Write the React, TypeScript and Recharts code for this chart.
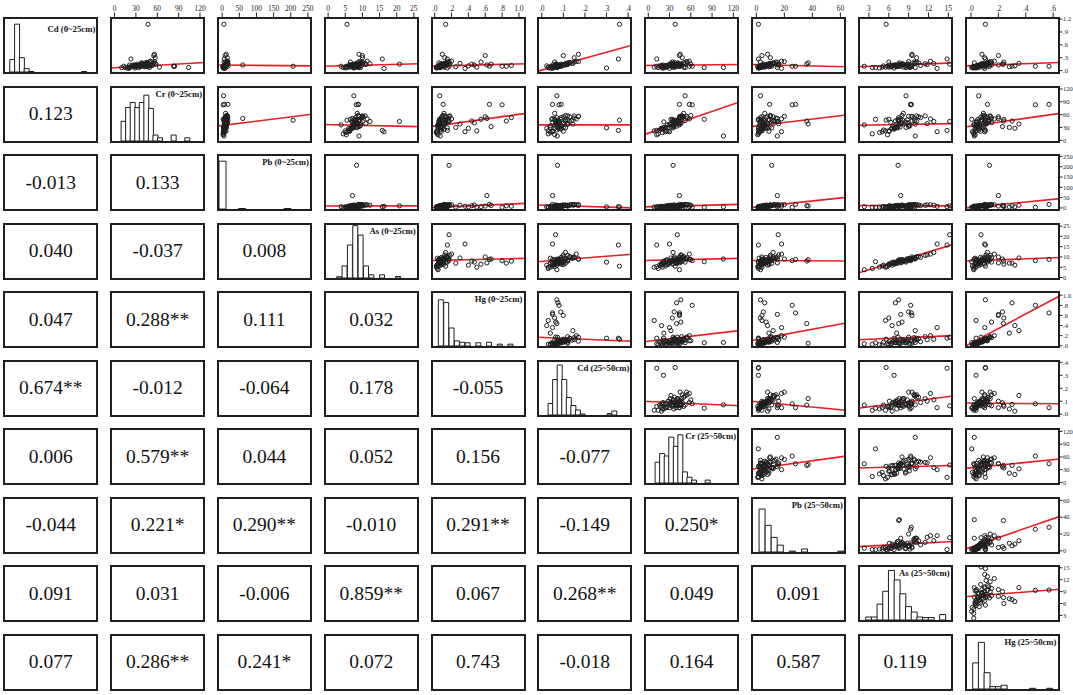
import { ScatterChart, Scatter, XAxis, YAxis, ReferenceLine, BarChart, Bar } from 'recharts';

const SERIF = '"Liberation Serif", "Times New Roman", serif';

// one value per soil sample, same order in every array
const cd0 = [
  0.12, 0.08, 0.15, 0.1, 0.18, 0.06, 0.13, 0.11, 0.2, 0.09, 0.14, 0.07, 0.16, 0.12, 0.1, 0.22, 0.13, 0.09, 0.11, 0.17,
  0.14, 0.1, 0.12, 0.08, 0.19, 0.11, 0.15, 0.13, 0.07, 0.16, 0.1, 0.14, 0.09, 0.12, 0.21, 0.11, 0.13, 0.1, 0.16, 0.12,
  0.38, 0.3, 0.08,
  1.08, 0.27, 0.06, 0.1, 0.13, 0.15, 0.05, 0.07, 0.1, 0.07, 0.07, 0.18,
  0.12, 0.1, 0.1, 0.15, 0.1, 0.35, 0.2, 0.08, 0.13, 0.15, 0.11, 0.17, 0.09,
];
const cr0 = [
  35, 22, 48, 41, 55, 18, 30, 45, 52, 27, 38, 15, 57, 33, 43, 50, 29, 36, 24, 46,
  40, 31, 53, 20, 44, 37, 58, 26, 34, 47, 13, 39, 42, 30, 56, 49, 21, 36, 44, 27,
  56, 57, 63,
  47, 23, 29, 47, 51, 44, 20, 104, 84, 10, 49, 38,
  53, 45, 83, 32, 84, 55, 49, 22, 41, 45, 28, 38, 30,
];
const pb0 = [
  9, 6, 12, 8, 14, 4, 11, 7, 16, 5, 10, 3, 13, 9, 6, 15, 12, 8, 7, 17,
  10, 5, 11, 4, 14, 9, 13, 6, 8, 12, 3, 15, 7, 10, 16, 9, 11, 6, 13, 8,
  12, 15, 10,
  5, 6, 5, 207, 60, 10, 8, 4, 7, 5, 3, 9,
  8, 10, 3, 12, 17, 9, 6, 4, 14, 11, 5, 13, 4,
];
const as0 = [
  7.8, 6.2, 9.1, 8.4, 10.2, 5.1, 7.1, 8.9, 9.6, 6.7, 8.1, 4.4, 10.8, 7.4, 7.9, 11.4, 6.9, 8.6, 6.0, 9.3,
  7.6, 8.2, 9.8, 5.6, 10.0, 7.3, 8.8, 6.5, 9.4, 8.0, 5.3, 11.0, 7.0, 8.5, 9.0, 7.7, 6.3, 3.8, 12.2, 6.8,
  9.0, 10.0, 8.5,
  5.5, 15.8, 7.5, 8.3, 7.1, 20.8, 16.3, 7.5, 8.8, 9.0, 7.7, 8.7,
  8.0, 7.0, 8.2, 9.0, 8.8, 10.0, 6.5, 5.0, 7.5, 8.0, 6.0, 9.5, 7.0,
];
const hg0 = [
  0.06, 0.03, 0.09, 0.12, 0.14, 0.02, 0.07, 0.05, 0.16, 0.04, 0.1, 0.03, 0.18, 0.08, 0.06, 0.2, 0.09, 0.05, 0.07, 0.11,
  0.13, 0.04, 0.08, 0.02, 0.15, 0.06, 0.1, 0.11, 0.03, 0.07, 0.04, 0.12, 0.05, 0.09, 0.17, 0.06, 0.08, 0.04, 0.13, 0.07,
  0.09, 0.12, 0.11,
  0.13, 0.15, 0.15, 0.17, 0.62, 0.17, 0.36, 0.06, 0.1, 0.066, 0.06, 0.05,
  0.91, 0.85, 0.8, 0.67, 0.65, 0.6, 0.55, 0.5, 0.47, 0.44, 0.4, 0.3, 0.25,
];
const cd25 = [
  0.09, 0.05, 0.11, 0.07, 0.13, 0.04, 0.1, 0.08, 0.15, 0.06, 0.12, 0.03, 0.12, 0.09, 0.08, 0.16, 0.11, 0.06, 0.07, 0.14,
  0.1, 0.07, 0.09, 0.05, 0.13, 0.08, 0.11, 0.09, 0.04, 0.12, 0.06, 0.1, 0.05, 0.08, 0.17, 0.09, 0.1, 0.07, 0.11, 0.08,
  0.17, 0.15, 0.06,
  0.36, 0.355, 0.3, 0.073, 0.05, 0.064, 0.05, 0.07, 0.09, 0.072, 0.046, 0.12,
  0.07, 0.075, 0.08, 0.088, 0.05, 0.1, 0.06, 0.03, 0.065, 0.07, 0.023, 0.144, 0.04,
];
const cr25 = [
  34, 26, 42, 38, 50, 20, 29, 45, 55, 18, 31, 14, 47, 40, 22, 58, 35, 27, 16, 52,
  43, 33, 48, 24, 37, 30, 60, 21, 36, 41, 12, 46, 39, 25, 54, 32, 28, 44, 35, 19,
  45, 48, 50,
  38, 12, 21.5, 35, 44, 41, 30, 52, 58, 106, 79, 42,
  46, 40, 62, 36.5, 44, 44, 34, 8.4, 46, 40, 18.7, 32, 22,
];
const pb25 = [
  6, 3, 9, 5, 12, 2, 7, 4, 14, 3, 8, 1.5, 10, 6, 2.5, 18, 11, 5, 4, 13,
  8, 3.5, 7, 2, 15, 6, 10, 4.5, 2, 9, 1, 16, 3, 7, 20, 5, 9, 3, 12, 5.5,
  8, 10, 6,
  1.5, 1.5, 1.5, 11, 15, 15.6, 18, 3, 9.5, 15, 1.4, 37,
  3, 6, 25.6, 5, 28, 4, 2.8, 4, 7, 36, 8, 12, 9,
];
const as25 = [
  7.5, 6.0, 8.8, 8.9, 10.5, 4.6, 7.0, 9.5, 9.8, 6.4, 8.3, 3.5, 11.5, 6.6, 8.5, 12.3, 7.3, 9.1, 5.2, 9.9,
  7.8, 7.7, 10.8, 5.0, 10.2, 7.1, 8.0, 6.8, 9.2, 8.1, 5.8, 11.8, 6.3, 8.6, 9.0, 7.4, 6.1, 2.3, 12.8, 6.9,
  9.5, 10.2, 8.2,
  5.6, 14.8, 6.8, 7.4, 7.8, 15.2, 13.3, 8.6, 9.3, 10.0, 4.0, 7.6,
  7.5, 7.0, 9.3, 9.0, 9.4, 9.5, 6.0, 5.5, 8.0, 7.5, 6.5, 10.0, 7.2,
];
const hg25 = [
  0.05, 0.03, 0.08, 0.1, 0.12, 0.02, 0.06, 0.04, 0.15, 0.03, 0.11, 0.02, 0.14, 0.07, 0.05, 0.17, 0.09, 0.04, 0.06, 0.1,
  0.12, 0.05, 0.07, 0.01, 0.13, 0.06, 0.09, 0.1, 0.03, 0.08, 0.03, 0.11, 0.04, 0.08, 0.14, 0.05, 0.07, 0.02, 0.12, 0.06,
  0.08, 0.1, 0.09,
  0.105, 0.105, 0.037, 0.135, 0.2, 0.073, 0.1, 0.056, 0.12, 0.024, 0.005, 0.024,
  0.105, 0.3, 0.47, 0.23, 0.57, 0.2, 0.24, 0.037, 0.15, 0.237, 0.32, 0.35, 0.28,
];

// histogram counts (relative, tallest bin = 100), one entry per bin
const cd0Hist = [0, 26, 100, 30, 7, 1, 0, 0, 0, 0, 0, 0, 0, 0, 0, 0, 1, 0, 0];
const cr0Hist = [0, 0, 43, 73, 84, 73, 84, 100, 71, 13, 7, 0, 0, 13, 0, 0, 7, 0, 0, 0];
const pb0Hist = [100, 0, 0, 1, 0, 0, 0, 0, 0, 0, 1, 0, 0, 0];
const as0Hist = [0, 0, 2.5, 23, 63, 100, 82, 23, 6, 0, 6, 0, 0, 3, 0, 0, 0];
const hg0Hist = [0, 100, 94, 39, 11, 8, 7, 0, 7, 0, 8, 0, 4, 0, 4, 0, 0];
const cd25Hist = [0, 0, 23, 71, 100, 71, 35, 19, 10, 2, 0, 0, 0, 0, 0, 3, 8, 0, 0, 0];
const cr25Hist = [0, 0, 43, 61, 56, 95, 76, 100, 23, 12, 6, 0, 0, 6, 0, 0, 0, 0, 0, 0];
const pb25Hist = [0, 100, 62, 34, 16, 0, 2, 0, 7, 0, 0, 0, 0, 0, 2];
const as25Hist = [0, 6, 6, 32, 58, 100, 81, 53, 27, 16, 6, 5, 5, 0, 11, 0];
const hg25Hist = [0, 56, 100, 35, 5, 5, 8, 0, 0, 0, 0, 1.5, 0, 0, 1.5, 0];

const cd0Ticks = [0, 0.3, 0.6, 0.9, 1.2];
const cr0Ticks = [0, 30, 60, 90, 120];
const pb0Ticks = [0, 50, 100, 150, 200, 250];
const as0Ticks = [0, 5, 10, 15, 20, 25];
const hg0Ticks = [0, 0.2, 0.4, 0.6, 0.8, 1.0];
const cd25Ticks = [0, 0.1, 0.2, 0.3, 0.4];
const cr25Ticks = [0, 30, 60, 90, 120];
const pb25Ticks = [0, 20, 40, 60];
const as25Ticks = [3, 6, 9, 12, 15];
const hg25Ticks = [0, 0.2, 0.4, 0.6];

// Pearson r, lower triangle, row by row
const corrRows = [
  ['0.123'],
  ['-0.013', '0.133'],
  ['0.040', '-0.037', '0.008'],
  ['0.047', '0.288**', '0.111', '0.032'],
  ['0.674**', '-0.012', '-0.064', '0.178', '-0.055'],
  ['0.006', '0.579**', '0.044', '0.052', '0.156', '-0.077'],
  ['-0.044', '0.221*', '0.290**', '-0.010', '0.291**', '-0.149', '0.250*'],
  ['0.091', '0.031', '-0.006', '0.859**', '0.067', '0.268**', '0.049', '0.091'],
  ['0.077', '0.286**', '0.241*', '0.072', '0.743', '-0.018', '0.164', '0.587', '0.119'],
];

// fitted line: [row, col, y at left edge, y at right edge]
const fitLines = [
  [0, 1, 0.06, 0.19], [0, 2, 0.13, 0.11], [0, 3, 0.1, 0.16], [0, 4, 0.1, 0.16], [0, 5, -0.02, 0.59],
  [0, 6, 0.12, 0.14], [0, 7, 0.14, 0.09], [0, 8, 0.09, 0.18], [0, 9, 0.11, 0.19],
  [1, 2, 33, 61], [1, 3, 37, 32], [1, 4, 32, 63], [1, 5, 36, 36], [1, 6, 13, 89], [1, 7, 32, 59], [1, 8, 35, 39], [1, 9, 31, 63],
  [2, 3, 9, 10], [2, 4, 2, 22], [2, 5, 14, 0], [2, 6, 5, 17], [2, 7, 2, 51], [2, 8, 12, 10], [2, 9, 0, 45],
  [3, 4, 8.3, 9.3], [3, 5, 7.7, 11.3], [3, 6, 8.3, 9.3], [3, 7, 8.3, 8], [3, 8, 2.2, 16], [3, 9, 8, 9.7],
  [4, 5, 0.17, 0.09], [4, 6, 0.08, 0.3], [4, 7, 0.1, 0.45], [4, 8, 0.12, 0.2], [4, 9, -0.01, 0.99],
  [5, 6, 0.1, 0.065], [5, 7, 0.1, 0.03], [5, 8, 0.045, 0.14], [5, 9, 0.086, 0.08],
  [6, 7, 31, 62], [6, 8, 34, 40], [6, 9, 33, 55],
  [7, 8, 5, 11], [7, 9, 2, 41],
  [8, 9, 7.7, 9.6],
];

const vars = [
  { name: 'Cd (0~25cm)', values: cd0, domain: [-0.08, 1.25], ticks: cd0Ticks, dec: true, hist: cd0Hist, histTop: 115 },
  { name: 'Cr (0~25cm)', values: cr0, domain: [-6.4, 127], ticks: cr0Ticks, dec: false, hist: cr0Hist, histTop: 120 },
  { name: 'Pb (0~25cm)', values: pb0, domain: [-15, 262], ticks: pb0Ticks, dec: false, hist: pb0Hist, histTop: 115 },
  { name: 'As (0~25cm)', values: as0, domain: [-1.2, 26.5], ticks: as0Ticks, dec: false, hist: as0Hist, histTop: 105 },
  { name: 'Hg (0~25cm)', values: hg0, domain: [-0.044, 1.084], ticks: hg0Ticks, dec: true, hist: hg0Hist, histTop: 119 },
  { name: 'Cd (25~50cm)', values: cd25, domain: [-0.022, 0.418], ticks: cd25Ticks, dec: true, hist: cd25Hist, histTop: 110 },
  { name: 'Cr (25~50cm)', values: cr25, domain: [-6, 128], ticks: cr25Ticks, dec: false, hist: cr25Hist, histTop: 114 },
  { name: 'Pb (25~50cm)', values: pb25, domain: [-3.8, 64], ticks: pb25Ticks, dec: false, hist: pb25Hist, histTop: 128 },
  { name: 'As (25~50cm)', values: as25, domain: [1.35, 15.7], ticks: as25Ticks, dec: false, hist: as25Hist, histTop: 111 },
  { name: 'Hg (25~50cm)', values: hg25, domain: [-0.044, 0.65], ticks: hg25Ticks, dec: true, hist: hg25Hist, histTop: 118 },
];

const CW = 95;
const CH = 57;
const colX = (c: number) => 3.3 + c * 106.8;
const rowY = (r: number) => 17.3 + r * 68.5;
const INK = '#1e1e1e';

const fmt = (dec: boolean) => (v: number) => {
  if (!dec) return String(v);
  const s = v.toFixed(1);
  return s.startsWith('0') ? s.slice(1) : s;
};

const Ring = (p: any) => <circle cx={p.cx} cy={p.cy} r={2.1} fill="none" stroke={INK} strokeWidth={1} />;

const Frame = () => (
  <div style={{ position: 'absolute', inset: 0, border: `2px solid ${INK}`, boxSizing: 'border-box', pointerEvents: 'none' }} />
);

function ScatterCell({ row, col }: { row: number; col: number }) {
  const xv = vars[col];
  const yv = vars[row];
  const data = xv.values.map((x, i) => ({ x, y: yv.values[i] }));
  const fit = fitLines.find((f) => f[0] === row && f[1] === col);
  const top = row === 0 ? 17 : 0;
  const right = col === 9 ? 13 : 0;
  const tickStyle = { fontSize: 7.5, fill: '#222', fontFamily: SERIF };
  return (
    <div style={{ position: 'absolute', left: colX(col), top: rowY(row), width: CW, height: CH }}>
      <div style={{ position: 'absolute', left: 0, top: -top }}>
        <ScatterChart width={CW + right} height={CH + top} margin={{ top: 0, right: 0, bottom: 0, left: 0 }}>
          <XAxis
            type="number"
            dataKey="x"
            domain={xv.domain}
            allowDataOverflow
            hide={row !== 0}
            orientation="top"
            height={top}
            ticks={xv.ticks}
            interval={0}
            tickFormatter={fmt(xv.dec)}
            tick={tickStyle}
            tickLine={{ stroke: '#222' }}
            tickSize={4.5}
            tickMargin={2}
            axisLine={false}
          />
          <YAxis
            type="number"
            dataKey="y"
            domain={yv.domain}
            allowDataOverflow
            hide={col !== 9}
            orientation="right"
            width={right}
            ticks={yv.ticks}
            interval={0}
            tickFormatter={fmt(yv.dec)}
            tick={{ ...tickStyle, fontSize: 6.5 }}
            tickLine={{ stroke: '#222' }}
            tickSize={2.5}
            tickMargin={0.5}
            axisLine={false}
          />
          <Scatter data={data} shape={Ring} isAnimationActive={false} />
          {fit && (
            <ReferenceLine
              segment={[
                { x: xv.domain[0], y: fit[2] },
                { x: xv.domain[1], y: fit[3] },
              ]}
              stroke="#ec1c24"
              strokeWidth={1.6}
              ifOverflow="hidden"
            />
          )}
        </ScatterChart>
      </div>
      <Frame />
    </div>
  );
}

function HistCell({ idx }: { idx: number }) {
  const v = vars[idx];
  const data = v.hist.map((n, k) => ({ k, n }));
  return (
    <div style={{ position: 'absolute', left: colX(idx), top: rowY(idx), width: CW, height: CH }}>
      <BarChart width={CW} height={CH - 2} data={data} margin={{ top: 0, right: 2, bottom: 0, left: 2 }} barCategoryGap={0} barGap={0}>
        <XAxis dataKey="k" hide />
        <YAxis type="number" hide domain={[0, v.histTop]} allowDataOverflow />
        <Bar dataKey="n" fill="#fff" stroke={INK} strokeWidth={1} isAnimationActive={false} />
      </BarChart>
      <div
        style={{
          position: 'absolute',
          right: 3,
          top: idx === 0 ? 7 : 3,
          fontFamily: SERIF,
          fontWeight: 'bold',
          fontSize: 8.7,
          lineHeight: '10px',
          color: '#111',
          whiteSpace: 'nowrap',
        }}
      >
        {v.name}
      </div>
      <Frame />
    </div>
  );
}

function CorrCell({ row, col, text }: { row: number; col: number; text: string }) {
  return (
    <div
      style={{
        position: 'absolute',
        left: colX(col),
        top: rowY(row),
        width: CW,
        height: CH,
        display: 'flex',
        alignItems: 'center',
        justifyContent: 'center',
        fontFamily: SERIF,
        fontSize: 19.5,
        color: '#111',
      }}
    >
      {text}
      <Frame />
    </div>
  );
}

export default function App() {
  const cells = [];
  for (let r = 0; r < 10; r++) {
    for (let c = 0; c < 10; c++) {
      if (r === c) cells.push(<HistCell key={`${r}-${c}`} idx={r} />);
      else if (c > r) cells.push(<ScatterCell key={`${r}-${c}`} row={r} col={c} />);
      else cells.push(<CorrCell key={`${r}-${c}`} row={r} col={c} text={corrRows[r - 1][c]} />);
    }
  }
  return (
    <div style={{ position: 'absolute', left: 0, top: 0, width: 1073, height: 695, overflow: 'hidden', background: '#fff' }}>
      <style>{'.recharts-surface { overflow: visible; }'}</style>
      {cells}
    </div>
  );
}
